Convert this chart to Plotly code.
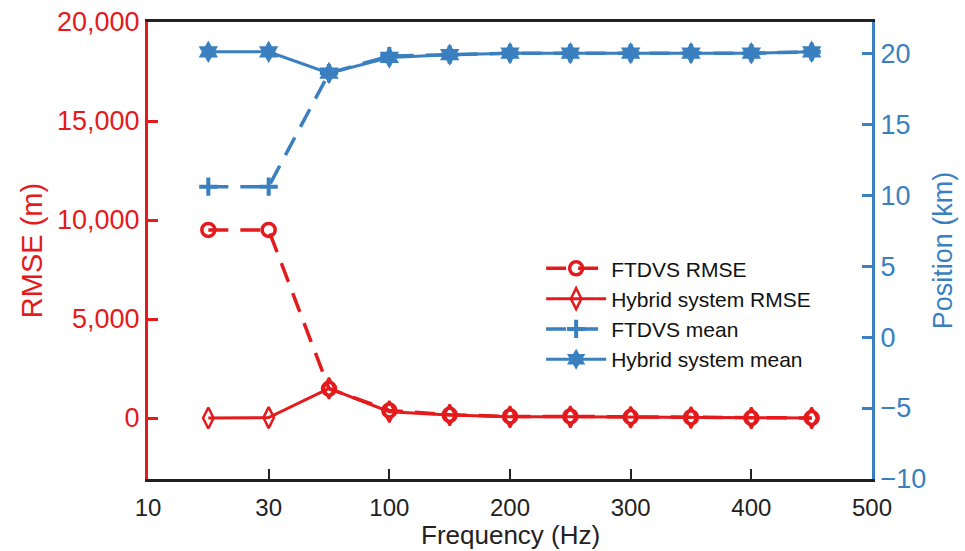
import plotly.graph_objects as go

# Frequencies sampled (Hz) and the evenly spaced axis ticks
freqs = [20, 30, 50, 100, 150, 200, 250, 300, 350, 400, 450]
tick_freqs = [10, 30, 100, 200, 300, 400, 500]
axis_freqs = [10, 20, 30, 50, 100, 150, 200, 250, 300, 350, 400, 450, 500]

# RMSE (m)
ftdvs_rmse = [9500, 9500, 1480, 380, 160, 80, 80, 50, 30, 0, 0]
hybrid_rmse = [0, 20, 1500, 320, 150, 60, 60, 40, 20, 0, 0]

# Mean position (km)
ftdvs_mean = [10.6, 10.6, 18.6, 19.8, 19.9, 20.0, 20.0, 20.0, 20.0, 20.0, 20.1]
hybrid_mean = [20.1, 20.1, 18.6, 19.7, 19.9, 20.0, 20.0, 20.0, 20.0, 20.0, 20.1]

RED = "#e41a1c"
BLUE = "#3a7fbf"
FONT = "Liberation Sans, Arial, sans-serif"
DASH = "20px,12px"

pos = {f: i for i, f in enumerate(axis_freqs)}
x = [pos[f] for f in freqs]
tickvals = [pos[f] for f in tick_freqs]

fig = go.Figure()
fig.add_trace(go.Scatter(
    x=x, y=ftdvs_rmse, name="FTDVS RMSE", mode="lines+markers",
    line=dict(color=RED, width=3.5, dash=DASH),
    marker=dict(symbol="circle-open", size=13, color=RED, line=dict(width=3.5)),
))
fig.add_trace(go.Scatter(
    x=x, y=hybrid_rmse, name="Hybrid system RMSE", mode="lines+markers",
    line=dict(color=RED, width=3),
    marker=dict(symbol="diamond-tall-open", size=15, color=RED, line=dict(width=2.5)),
))
fig.add_trace(go.Scatter(
    x=x, y=ftdvs_mean, name="FTDVS mean", mode="lines+markers", yaxis="y2",
    line=dict(color=BLUE, width=3.5, dash=DASH),
    marker=dict(symbol="cross-thin", size=13, color=BLUE, line=dict(width=4, color=BLUE)),
))
fig.add_trace(go.Scatter(
    x=x, y=hybrid_mean, name="Hybrid system mean", mode="lines+markers", yaxis="y2",
    line=dict(color=BLUE, width=3),
    marker=dict(symbol="hexagram", size=17, color=BLUE),
))

fig.update_layout(
    width=965, height=551,
    margin=dict(l=148, r=93, t=22, b=72),
    plot_bgcolor="white", paper_bgcolor="white",
    font=dict(family=FONT, size=24, color="#222222"),
    showlegend=True,
    legend=dict(
        x=0.543, y=0.505, xanchor="left", yanchor="top",
        bgcolor="rgba(0,0,0,0)", font=dict(size=21, color="#111111"),
        tracegroupgap=0, itemwidth=60,
    ),
    xaxis=dict(
        range=[0, 12], tickvals=tickvals, ticktext=[str(t) for t in tick_freqs],
        showgrid=False, zeroline=False, showline=True, linecolor="#222222", linewidth=3,
        mirror=True, ticks="inside", ticklen=10, tickwidth=2, tickcolor="#222222",
        ticklabelstandoff=5, automargin=False,
        tickfont=dict(size=24),
    ),
    yaxis=dict(
        range=[-3080, 20000], tickvals=[0, 5000, 10000, 15000, 20000],
        ticktext=["0", "5,000", "10,000", "15,000", "20,000"],
        showgrid=False, zeroline=False, showline=True, linecolor=RED, linewidth=3,
        ticks="inside", ticklen=10, tickwidth=3, tickcolor=RED, automargin=False,
        tickfont=dict(color=RED, size=27),
        title=dict(text="RMSE (m)", font=dict(color=RED, size=29), standoff=6),
    ),
    yaxis2=dict(
        range=[-10, 22.2], tickvals=[-10, -5, 0, 5, 10, 15, 20],
        overlaying="y", side="right", automargin=False,
        showgrid=False, zeroline=False, showline=True, linecolor=BLUE, linewidth=3,
        ticks="inside", ticklen=10, tickwidth=3, tickcolor=BLUE,
        tickfont=dict(color=BLUE, size=27),
        title=dict(text="Position (km)", font=dict(color=BLUE, size=27), standoff=8),
    ),
    annotations=[dict(
        text="Frequency (Hz)", xref="paper", yref="paper", x=0.5, y=0,
        xanchor="center", yanchor="middle", yshift=-56, showarrow=False,
        font=dict(size=26, color="#222222"),
    )],
)

fig.write_html("out.html")
